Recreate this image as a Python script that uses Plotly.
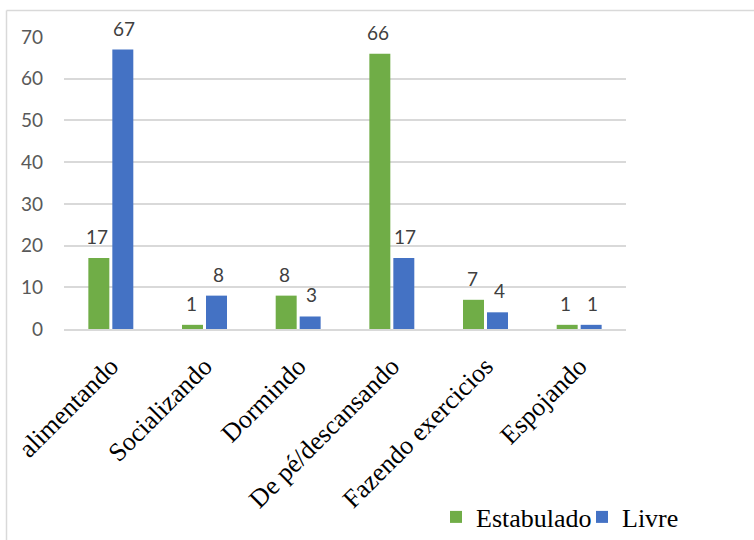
import plotly.graph_objects as go

categories = ["alimentando", "Socializando", "Dormindo", "De pé/descansando",
              "Fazendo exercicios", "Espojando"]
estabulado = [17, 1, 8, 66, 7, 1]
livre = [67, 8, 3, 17, 4, 1]
y_ticks = [0, 10, 20, 30, 40, 50, 60, 70]

GREEN = "#70AD47"
BLUE = "#4472C4"
GRID = "#D9D9D9"
NUM_FONT = "Lato"
SERIF = "Liberation Serif"

fig = go.Figure()
fig.add_trace(go.Bar(name="Estabulado", x=categories, y=estabulado, legend="legend",
                     marker=dict(color=GREEN, line=dict(width=0))))
fig.add_trace(go.Bar(name="Livre", x=categories, y=livre, legend="legend2",
                     marker=dict(color=BLUE, line=dict(width=0))))

# data labels
annotations = []
for vals, shift in ((estabulado, -13.5), (livre, 13.5)):
    for c, v in zip(categories, vals):
        annotations.append(dict(x=c, y=v, text=str(v), showarrow=False,
                                xshift=shift, yshift=8, yanchor="bottom",
                                font=dict(family=NUM_FONT, size=19, color="#404040")))

L, R, T, B = 64, 128, 37, 211
W, H = 754, 540
pw, ph = W - L - R, H - T - B

def px_x(px):
    return (px - L) / pw

def px_y(py):
    return (H - B - py) / ph

legend_common = dict(orientation="h", xref="container", yref="container",
                     xanchor="left", yanchor="middle", y=(H - 517) / H,
                     font=dict(family=SERIF, size=26, color="black"),
                     bgcolor="rgba(0,0,0,0)", borderwidth=0)

fig.update_layout(
    width=W, height=H,
    margin=dict(l=L, r=R, t=T, b=B, pad=0, autoexpand=False),
    paper_bgcolor="white", plot_bgcolor="white",
    barmode="group", bargap=0.488, bargroupgap=0.125,
    annotations=annotations,
    showlegend=True,
    legend=dict(x=(436) / W, **legend_common),
    legend2=dict(x=(582) / W, **legend_common),
    xaxis=dict(showgrid=False, tickangle=-45, ticks="", automargin=False,
               tickfont=dict(family=SERIF, size=26, color="black"),
               showline=True, linecolor=GRID, linewidth=1.5,
               ticklabelstandoff=10),
    yaxis=dict(range=[0, 70], tickvals=y_ticks, showgrid=True, gridcolor=GRID,
               gridwidth=1.5, zeroline=False, showline=False, ticks="",
               automargin=False,
               tickfont=dict(family=NUM_FONT, size=19, color="#595959"),
               ticklabelstandoff=20),
    shapes=[
        dict(type="line", xref="paper", yref="paper",
             x0=px_x(6.5), x1=px_x(760), y0=px_y(10.5), y1=px_y(10.5),
             line=dict(color=GRID, width=1.5)),
        dict(type="line", xref="paper", yref="paper",
             x0=px_x(6.5), x1=px_x(6.5), y0=px_y(10.5), y1=px_y(545),
             line=dict(color=GRID, width=1.5)),
    ],
)

fig.write_html("out.html")
